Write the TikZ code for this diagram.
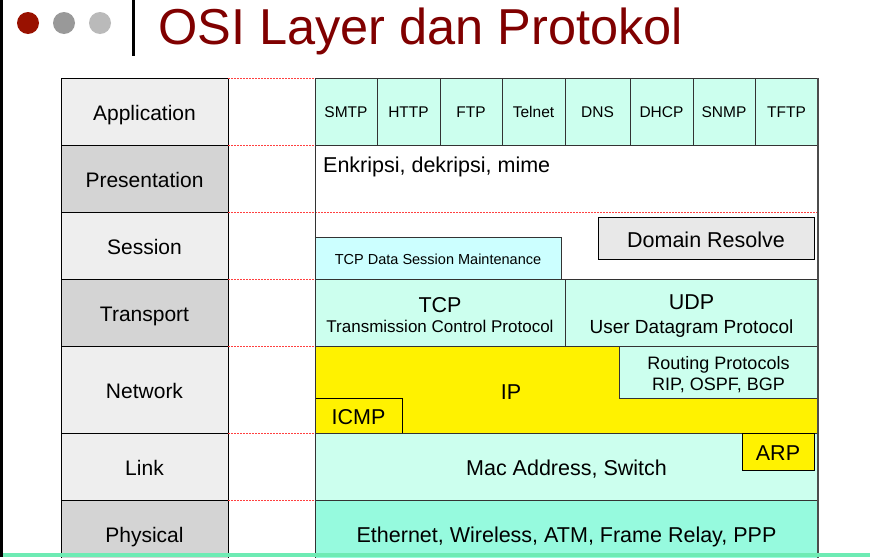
\documentclass[tikz,border=0pt]{standalone}
\usepackage{fontspec}
\setmainfont{Liberation Sans}

\definecolor{mint}{RGB}{204,255,238}
\definecolor{mintcyan}{RGB}{204,255,255}
\definecolor{mintdark}{RGB}{150,250,222}
\definecolor{graylight}{RGB}{238,238,238}
\definecolor{graydark}{RGB}{212,212,212}
\definecolor{grayresolve}{RGB}{232,232,232}
\definecolor{titlered}{RGB}{128,0,0}
\definecolor{dotred}{RGB}{153,17,0}
\definecolor{bottomgreen}{RGB}{110,235,180}

\tikzset{
  layerbox/.style={rectangle, draw, line width=1pt, anchor=north west, minimum width=167, inner sep=0pt, outer sep=0pt, text height=18.4pt, text depth=0pt, font=\fontsize{21}{25}\selectfont},
  protobox/.style={rectangle, draw=black!80, line width=0.9pt, anchor=north west, inner sep=0pt, outer sep=0pt, font=\fontsize{21.5}{25}\selectfont},
  oneline/.style={text height=18.4pt, text depth=0pt},
  reddash/.style={draw=red!75, line width=0.8pt, dash pattern=on 2pt off 1pt},
  dot/.style={circle, minimum size=22, inner sep=0pt}
}

\begin{document}
\begin{tikzpicture}[x=1pt, y=-1pt]
    \clip (0,0) rectangle (870,557);
    \fill[white] (0,0) rectangle (870,557);
    % header
    \node[dot, fill=dotred] (dot1) at (28,23) {};
    \node[dot, fill=black!40] (dot2) at (64,23) {};
    \node[dot, fill=black!27] (dot3) at (100,23) {};
    \draw[line width=3pt] (133,0) -- (133,56);
    \node[anchor=base west, inner sep=0pt, text=titlered, font=\fontsize{50.5}{60}\selectfont] at (158,44) (title) {OSI Layer dan Protokol};
    % layers
    \node[layerbox, fill=graylight, minimum height=67] at (61,78) (application) {Application};
    \node[layerbox, fill=graydark, minimum height=67] at (61,145) (presentation) {Presentation};
    \node[layerbox, fill=graylight, minimum height=67] at (61,212) (session) {Session};
    \node[layerbox, fill=graydark, minimum height=67] at (61,279) (transport) {Transport};
    \node[layerbox, fill=graylight, minimum height=87] at (61,346) (network) {Network};
    \node[layerbox, fill=graylight, minimum height=67] at (61,433) (link) {Link};
    \node[layerbox, fill=graydark, minimum height=67] at (61,500) (physical) {Physical};
    \foreach \y in {78,145,212,279,346,433,500}
        \draw[reddash] (228,\y) -- (315,\y);
    % application
    \foreach \txt/\xa/\xb in {SMTP/315/377, HTTP/377/440, FTP/440/502, Telnet/502/565, DNS/565/630, DHCP/630/693, SNMP/693/755, TFTP/755/818}
        \node[protobox, fill=mint, minimum width=(\xb-\xa), minimum height=67, text height=12pt, text depth=0pt, font=\fontsize{15.5}{18}\selectfont] at (\xa,78) (app-\txt) {\txt};
    % presentation
    \node[anchor=base west, inner sep=0pt, font=\fontsize{21.5}{25}\selectfont] at (323,172) (enkripsi) {Enkripsi, dekripsi, mime};
    \draw[reddash] (315,212) -- (818,212);
    % session
    \node[protobox, fill=mintcyan, minimum width=246, minimum height=42, text height=12.4pt, text depth=0pt, font=\fontsize{14.5}{17}\selectfont] at (315,237) (tcpsession) {TCP Data Session Maintenance};
    \node[protobox, oneline, draw=black, fill=grayresolve, minimum width=216, minimum height=42] at (598,217) (resolve) {Domain Resolve};
    % transport
    \node[protobox, fill=mint, minimum width=250, minimum height=67, align=center, text height=39.4pt, text depth=0pt] at (315,279) (tcp) {TCP\\[-5pt]{\fontsize{17}{20}\selectfont Transmission Control Protocol}};
    \node[protobox, fill=mint, minimum width=253, minimum height=67, align=center, text height=42.6pt, text depth=0pt] at (565,279) (udp) {UDP\\[-1pt]{\fontsize{19}{22}\selectfont User Datagram Protocol}};
    % network
    \node[protobox, fill=yellow, minimum width=503, minimum height=87] at (315,346) (ip) {};
    \node[anchor=base, inner sep=0pt, font=\fontsize{21.5}{25}\selectfont] at (511,399) (iplabel) {IP};
    \node[protobox, fill=mint, minimum width=199, minimum height=52, align=center, text height=36.9pt, text depth=0pt, font=\fontsize{18}{21}\selectfont] at (619,346) (routing) {Routing Protocols\\RIP, OSPF, BGP};
    \node[protobox, oneline, draw=black, fill=yellow, minimum width=87, minimum height=35] at (315,398) (icmp) {ICMP};
    % link
    \node[protobox, oneline, fill=mint, minimum width=503, minimum height=67] at (315,433) (macaddr) {Mac Address, Switch};
    \node[protobox, oneline, draw=black, fill=yellow, minimum width=72, minimum height=37] at (742,433) (arp) {ARP};
    % physical
    \node[protobox, oneline, fill=mintdark, minimum width=503, minimum height=67] at (315,500) (ethernet) {Ethernet, Wireless, ATM, Frame Relay, PPP};
    \draw[black!80, line width=1pt] (app-SMTP.north west) -- (ethernet.south west);
    \draw[black!70, line width=1.2pt] (app-TFTP.north east) -- (ethernet.south east);
    \fill[bottomgreen] (0,553) rectangle (870,557);
    \fill (0,0) rectangle (3,557);
\end{tikzpicture}
\end{document}
